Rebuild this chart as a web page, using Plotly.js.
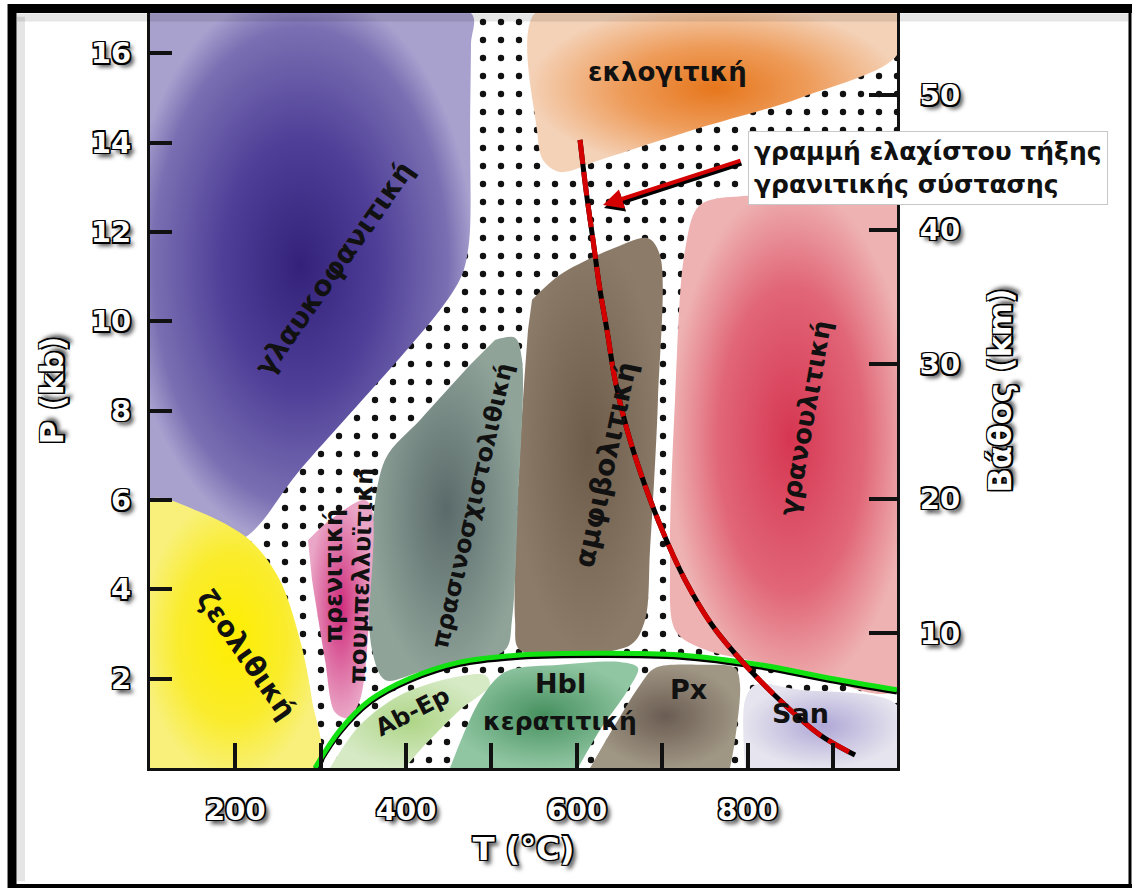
<!DOCTYPE html>
<html><head><meta charset="utf-8">
<script src="https://cdn.plot.ly/plotly-3.0.1.min.js"></script>
<style>html,body{margin:0;padding:0;background:#fff;}#chart{width:1132px;height:888px;}</style>
</head><body><div id="chart"></div>
<script>
// ---- axes ----
const T_RANGE = [100, 975];
const P_RANGE = [0, 16.9];
const DEPTH_RANGE = [0, 56.1];
const xTickVals = [200, 400, 600, 800];
const xMinorVals = [300, 500, 700, 900];
const yTickVals = [2, 4, 6, 8, 10, 12, 14, 16];
const depthTickVals = [10, 20, 30, 40, 50];

// ---- facies fields (T in °C, P in kb) ----
const glaucT = [100, 100, 476, 476, 475, 474, 465.5, 439.7, 275.7, 205.4, 100];
const glaucP = [10, 16.9, 16.9, 16.2, 14.3, 11.82, 11.04, 10.25, 6.67, 5.10, 5.10];
const zeoT = [100, 100, 158.6, 217, 252, 275.7, 289.8, 296.8, 100];
const zeoP = [3, 6.0, 5.73, 5.10, 4.21, 2.87, 1.52, 0, 0];
const eclT = [700, 975, 975, 861.4, 744.3, 627.1, 580.3, 560.3, 553.3, 551, 700];
const eclP = [16.9, 16.9, 15.96, 15.0, 14.33, 13.61, 13.34, 13.61, 14.28, 16.9, 16.9];
const amphT = [547.5, 580.3, 638.8, 683.4, 697.4, 695, 685.7, 679.8, 662.3, 533.4, 527.6, 533.4, 542.8];
const amphP = [10.48, 11.04, 11.6, 11.86, 11.48, 8.24, 4.88, 3.31, 2.75, 2.64, 3.31, 7.12, 9.81];
const granT = [975, 975, 861.4, 744.3, 715, 709.1, 715, 726.8, 744.3, 814.5, 975];
const granP = [8, 1.75, 2.19, 2.69, 3.09, 4.66, 8.24, 11.6, 12.6, 12.83, 13.05];
const greenT = [504.1, 527.6, 535.8, 531.1, 524, 515.8, 416.3, 375.3, 360.1, 357.7, 375.3, 416.3, 474.8];
const greenP = [9.58, 9.63, 9.13, 6.0, 3.31, 2.64, 2.15, 1.97, 2.64, 4.66, 6.9, 7.79, 9.02];
const prehT = [285.1, 310.8, 351.8, 360.1, 357.7, 346, 331.9, 316.7, 305, 289.8];
const prehP = [5.10, 5.55, 6.0, 5.78, 3.76, 1.52, 1.12, 1.25, 2.42, 4.21];
const abepT = [310.8, 346, 392.8, 451.4, 492.4, 498.3, 463.1, 416.3, 398.7];
const abepP = [0, 0.96, 1.63, 2.01, 2.08, 1.86, 1.30, 0.40, 0];
const hblT = [451.4, 486.6, 515.8, 580.3, 650.6, 671.6, 659.9, 627.1, 601.4];
const hblP = [0, 1.52, 2.15, 2.31, 2.37, 2.24, 1.75, 0.85, 0];
const pxT = [615.4, 644.7, 674, 691.6, 744.3, 785.3, 791.1, 785.3, 779.4];
const pxP = [0, 0.96, 1.86, 2.24, 2.31, 2.24, 1.86, 0.63, 0];
const sanT = [797, 797, 808.7, 861.4, 975, 975];
const sanP = [0, 1.52, 1.86, 1.75, 1.41, 0];

// ---- boundary curves ----
const contactT = [293.3, 322.6, 357.7, 404.6, 463.1, 533.4, 627.1, 720.8, 814.5, 896.5, 975];
const contactP = [0, 0.85, 1.52, 2.01, 2.37, 2.53, 2.57, 2.53, 2.31, 2.01, 1.75];
const meltT = [603.7, 610.7, 618.9, 627.1, 635.3, 644.7, 658.8, 677.5, 699.8, 726.7, 758.3, 797, 843.8, 884.8, 925.8];
const meltP = [14.06, 12.94, 11.82, 10.70, 9.80, 8.69, 7.57, 6.45, 5.33, 4.21, 3.20, 2.31, 1.41, 0.74, 0.29];

// ---- labels ----
const facLabels = ['γλαυκοφανιτική', 'ζεολιθική', 'εκλογιτική', 'πρασινοσχιστολιθική', 'πρενιτική',
  'πουμπελλυϊτική', 'αμφιβολιτική', 'γρανουλιτική', 'Ab-Ep', 'Hbl', 'κερατιτική', 'Px', 'San'];
const facLabelT = [315.5, 212.5, 705.6, 477.2, 315.5, 347.2, 633, 867.3, 406.9, 580.3, 580.3, 730.2, 861.4];
const facLabelP = [11.19, 2.53, 15.58, 5.87, 4.30, 4.30, 6.78, 7.84, 1.25, 1.90, 1.03, 1.75, 1.23];
const facLabelAngle = [-55, 55, 0, -77, -90, -88, -78, -80, -27, 0, 0, 0, 0];
const facLabelSize = [28, 28, 26, 24, 24, 24, 28, 26, 24, 27, 25, 27, 27];
const meltNote = 'γραμμή ελαχίστου τήξης<br>γρανιτικής σύστασης';
const arrowTip = [630.6, 12.60];

function region(T, P, scale) {
  return {
    type: 'scatter', x: T, y: P, mode: 'lines',
    line: {width: 0, shape: 'spline', smoothing: 0.9, color: scale[scale.length - 1][1]},
    fill: 'toself',
    fillgradient: {type: 'radial', colorscale: scale},
    hoverinfo: 'skip', showlegend: false
  };
}

const traces = [
  {
    type: 'scatter', mode: 'lines',
    x: [T_RANGE[0], T_RANGE[1], T_RANGE[1], T_RANGE[0], T_RANGE[0]],
    y: [P_RANGE[0], P_RANGE[0], P_RANGE[1], P_RANGE[1], P_RANGE[0]],
    line: {width: 0}, fill: 'toself', fillcolor: 'white',
    fillpattern: {shape: '.', size: 18, solidity: 0.1, fgcolor: '#111', bgcolor: 'white', fillmode: 'replace'},
    hoverinfo: 'skip', showlegend: false
  },
  region(glaucT, glaucP, [[0, '#34227a'], [0.45, '#4f3f98'], [0.85, '#7a6fb2'], [1, '#a8a1ce']]),
  region(zeoT, zeoP, [[0, '#ffee00'], [0.6, '#faec2c'], [1, '#f8f07a']]),
  region(eclT, eclP, [[0, '#e6761c'], [0.5, '#ee9c5a'], [1, '#f4d2b8']]),
  region(amphT, amphP, [[0, '#6e5c4a'], [1, '#8c7b69']]),
  region(granT, granP, [[0, '#d63652'], [0.6, '#e16677'], [1, '#eeb2b2']]),
  region(greenT, greenP, [[0, '#5a6a6a'], [1, '#8fa399']]),
  region(prehT, prehP, [[0, '#cf2a7a'], [1, '#eaa6c6']]),
  region(abepT, abepP, [[0, '#aed586'], [1, '#d6eac6']]),
  region(hblT, hblP, [[0, '#46905f'], [1, '#90c6a2']]),
  region(pxT, pxP, [[0, '#6a5c52'], [1, '#a09684']]),
  region(sanT, sanP, [[0, '#afa7d6'], [1, '#e6e4ee']]),
  // contact-metamorphism boundary with dark shadow
  {type: 'scatter', mode: 'lines', x: contactT, y: contactP.map(p => p - 0.05),
   line: {color: '#000', width: 5, shape: 'spline'}, hoverinfo: 'skip', showlegend: false},
  {type: 'scatter', mode: 'lines', x: contactT, y: contactP,
   line: {color: '#11e011', width: 5, shape: 'spline'}, hoverinfo: 'skip', showlegend: false},
  // granite minimum melting curve
  {type: 'scatter', mode: 'lines', x: meltT, y: meltP,
   line: {color: '#000', width: 5, shape: 'spline'}, hoverinfo: 'skip', showlegend: false},
  {type: 'scatter', mode: 'lines', x: meltT, y: meltP,
   line: {color: '#d40000', width: 5, shape: 'spline', dash: '24px,8px'}, hoverinfo: 'skip', showlegend: false},
  {type: 'scatter', mode: 'lines', x: [], y: [], yaxis: 'y2', hoverinfo: 'skip', showlegend: false}
];

const numShadow = '-1.5px -1.5px 0 #000, 1.5px -1.5px 0 #000, -1.5px 1.5px 0 #000, 1.5px 1.5px 0 #000, 0 1.5px 0 #000, 1.5px 0 0 #000, 4px 4px 4px rgba(0,0,0,0.7)';
const numFont = {family: 'DejaVu Sans', size: 29, color: '#fff', weight: 'bold', shadow: numShadow};
const titleFont = {family: 'DejaVu Sans', size: 32, color: '#fff', weight: 'bold', shadow: numShadow};

const annotations = facLabels.map((t, i) => ({
  x: facLabelT[i], y: facLabelP[i], xref: 'x', yref: 'y', text: t, showarrow: false,
  textangle: facLabelAngle[i],
  font: {family: 'DejaVu Sans', size: facLabelSize[i], color: '#111', weight: 'bold'}
}));
annotations.push(
  {x: arrowTip[0], y: arrowTip[1], xref: 'x', yref: 'y', text: '', showarrow: true,
   ax: 139, ay: -45, arrowcolor: '#000', arrowwidth: 4, arrowhead: 2, arrowsize: 1, xshift: 1, yshift: -3},
  {x: arrowTip[0], y: arrowTip[1], xref: 'x', yref: 'y', text: '', showarrow: true,
   ax: 139, ay: -45, arrowcolor: '#d40000', arrowwidth: 4, arrowhead: 2, arrowsize: 1},
  {x: 0.8005, y: 0.7947, xref: 'paper', yref: 'paper', xanchor: 'left', yanchor: 'middle',
   text: meltNote, showarrow: false, align: 'left', bgcolor: '#fff', bordercolor: '#c8c8c8',
   borderwidth: 1, borderpad: 5,
   font: {family: 'DejaVu Sans', size: 25, color: '#111', weight: 'bold'}}
);

const frameShapes = [
  {type: 'line', xref: 'paper', yref: 'paper', x0: -0.1847, x1: -0.1847, y0: 1.012, y1: -0.159, line: {color: '#000', width: 9}},
  {type: 'line', xref: 'paper', yref: 'paper', x0: -0.19, x1: 1.315, y0: 1.006, y1: 1.006, line: {color: '#000', width: 9}},
  {type: 'line', xref: 'paper', yref: 'paper', x0: 1.3119, x1: 1.3119, y0: 1.012, y1: -0.159, line: {color: '#000', width: 3}},
  {type: 'line', xref: 'paper', yref: 'paper', x0: -0.19, x1: 1.315, y0: -0.1563, y1: -0.1563, line: {color: '#000', width: 4}},
  {type: 'line', xref: 'paper', yref: 'paper', x0: -0.1727, x1: -0.1727, y0: 0.995, y1: -0.15, line: {color: 'rgba(0,0,0,0.10)', width: 8}},
  {type: 'line', xref: 'paper', yref: 'paper', x0: -0.178, x1: 1.31, y0: 0.994, y1: 0.994, line: {color: 'rgba(0,0,0,0.10)', width: 8}}
];

const layout = {
  width: 1132, height: 888,
  margin: {l: 150, r: 235, t: 13, b: 120},
  paper_bgcolor: '#fff', plot_bgcolor: '#fff',
  showlegend: false,
  xaxis: {
    range: T_RANGE, showgrid: false, zeroline: false,
    showline: true, linewidth: 3, linecolor: '#111', mirror: true,
    tickvals: xTickVals, ticks: 'inside', ticklen: 25, tickwidth: 4, tickcolor: '#111',
    minor: {tickvals: xMinorVals, ticks: 'inside', ticklen: 25, tickwidth: 4, tickcolor: '#111', showgrid: false},
    ticklabelstandoff: 14, tickfont: numFont,
    title: {text: 'T (°C)', font: titleFont, standoff: 12}
  },
  yaxis: {
    range: P_RANGE, showgrid: false, zeroline: false,
    showline: true, linewidth: 3, linecolor: '#111', mirror: true,
    tickvals: yTickVals, ticks: 'inside', ticklen: 22, tickwidth: 4, tickcolor: '#111',
    ticklabelstandoff: 10, tickfont: numFont,
    title: {text: 'P (kb)', font: titleFont, standoff: 18}
  },
  yaxis2: {
    overlaying: 'y', side: 'right', range: DEPTH_RANGE, showgrid: false, zeroline: false,
    showline: true, linewidth: 3, linecolor: '#111',
    tickvals: depthTickVals, ticks: 'inside', ticklen: 28, tickwidth: 4, tickcolor: '#111',
    ticklabelstandoff: 14, tickfont: numFont,
    title: {text: 'Βάθος (km)', font: titleFont, standoff: 30}
  },
  annotations: annotations,
  shapes: frameShapes
};

Plotly.newPlot('chart', traces, layout, {displayModeBar: false, staticPlot: true});
</script>
</body></html>
